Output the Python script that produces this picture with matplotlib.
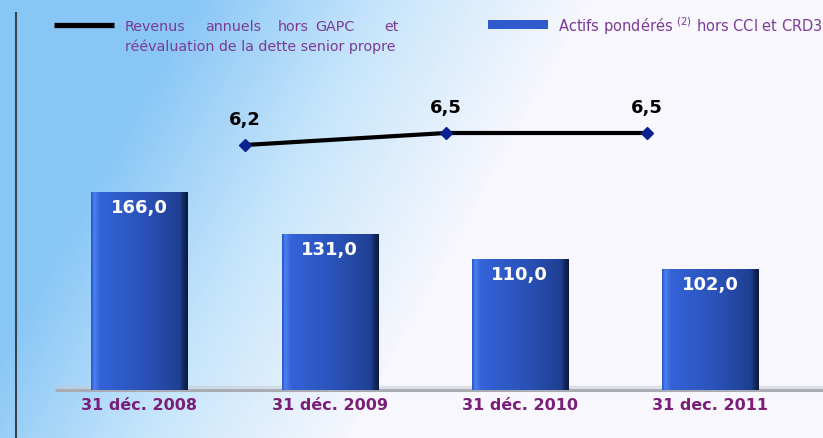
import numpy as np
import matplotlib
matplotlib.use('Agg')
import matplotlib.pyplot as plt
from matplotlib.colors import LinearSegmentedColormap

# ---------------- data ----------------
categories = ['31 déc. 2008', '31 déc. 2009', '31 déc. 2010', '31 dec. 2011']
rwa_values = [166.0, 131.0, 110.0, 102.0]
rwa_labels = ['166,0', '131,0', '110,0', '102,0']
rev_x = [1, 2, 3]
rev_values = [6.2, 6.5, 6.5]
rev_labels = ['6,2', '6,5', '6,5']
legend_line_words = ['Revenus', 'annuels', 'hors', 'GAPC', 'et']
legend_line_2 = 'réévaluation de la dette senior propre'
legend_bar_text = 'Actifs pondérés $^{(2)}$ hors CCI et CRD3'

W, H = 823, 438
PURPLE = '#7B3B94'
LABEL_PURPLE = '#7A1E78'

fig = plt.figure(figsize=(W / 100, H / 100), dpi=100)

# ---------------- background ----------------
bg = fig.add_axes([0, 0, 1, 1])
bg.set_axis_off()
xx, yy = np.meshgrid(np.arange(W), np.arange(H))
t = np.clip((xx + 0.55 * yy - 190) / 400, 0, 1)
cmap_bg = LinearSegmentedColormap.from_list('bg', ['#88c6f6', '#c8e6fb', '#f7f7fd'])
bg.imshow(t, cmap=cmap_bg, extent=[0, W, H, 0], aspect='auto', vmin=0, vmax=1,
          interpolation='bilinear')
bg.set_xlim(0, W)
bg.set_ylim(H, 0)

# left vertical rule
bg.plot([16, 16], [12, H], color='#3a4250', lw=1.5, solid_capstyle='butt')
# baseline
bg.plot([55, W], [390, 390], color='#a9abb2', lw=2.2, solid_capstyle='butt')
bg.plot([55, W], [387, 387], color='#c9cbd2', lw=2.5, alpha=0.5, solid_capstyle='butt')

# legend: line
bg.plot([54, 114], [24.5, 24.5], color='black', lw=3.8, solid_capstyle='butt')
word_x = [125, 205, 278, 315, 384]
for wx, wd in zip(word_x, legend_line_words):
    bg.text(wx, 27, wd, color=PURPLE, fontsize=10.3, ha='left', va='center')
bg.text(125, 47, legend_line_2, color=PURPLE, fontsize=10.3, ha='left', va='center')

# legend: bar
bg.add_patch(plt.Rectangle((488, 19.5), 60, 9.5, color='#2f5bcd', lw=0))
bg.text(558, 26, legend_bar_text, color=PURPLE, fontsize=10.5, ha='left', va='center')

# ---------------- bars ----------------
ax = fig.add_axes([44.4 / W, 48 / H, 760.6 / W, 340 / H])
ax.set_axis_off()
ax.patch.set_alpha(0)
ymax = 340 / 1.19
bars = ax.bar(range(len(categories)), rwa_values, width=0.505, color='#2b55c0',
              zorder=3, lw=0)

bar_cmap = LinearSegmentedColormap.from_list(
    'bar', [(0.0, '#2a55c8'), (0.03, '#4c82f2'), (0.09, '#3463d8'),
            (0.55, '#2a52b8'), (0.92, '#1f3f92'), (0.96, '#13295e'), (1.0, '#0c1a40')])
grad = np.linspace(0, 1, 200).reshape(1, -1)
for b in bars:
    x0, w, h = b.get_x(), b.get_width(), b.get_height()
    im = ax.imshow(grad, cmap=bar_cmap, extent=[x0, x0 + w, 0, h], aspect='auto',
                   zorder=4, interpolation='bilinear')
    im.set_clip_path(b)

for i, (v, lab) in enumerate(zip(rwa_values, rwa_labels)):
    ax.annotate(lab, (i, v), xytext=(0, -11.5), textcoords='offset points',
                ha='center', va='center', color='white', fontsize=13,
                fontweight='bold', zorder=6)
for i, c in enumerate(categories):
    ax.annotate(c, (i, 0), xytext=(0, -11), textcoords='offset points',
                ha='center', va='center', color=LABEL_PURPLE, fontsize=11.5,
                fontweight='bold', annotation_clip=False)

ax.set_xlim(-0.5, 3.5)
ax.set_ylim(0, ymax)

# ---------------- line ----------------
ax2 = fig.add_axes([44.4 / W, 48 / H, 760.6 / W, 340 / H])
ax2.set_axis_off()
ax2.patch.set_alpha(0)
ax2.plot(rev_x, rev_values, color='black', lw=3, zorder=3, solid_capstyle='butt')
ax2.plot(rev_x, rev_values, ls='none', marker='D', ms=6.5, color='#0b1f8f', zorder=4)
for x, v, lab in zip(rev_x, rev_values, rev_labels):
    ax2.annotate(lab, (x, v), xytext=(0, 18), textcoords='offset points',
                 ha='center', va='center', color='black', fontsize=13,
                 fontweight='bold')
ax2.set_xlim(0.002, 3.786)
ax2.set_ylim(0.075, 8.575)

fig.savefig('out.png', dpi=100)
